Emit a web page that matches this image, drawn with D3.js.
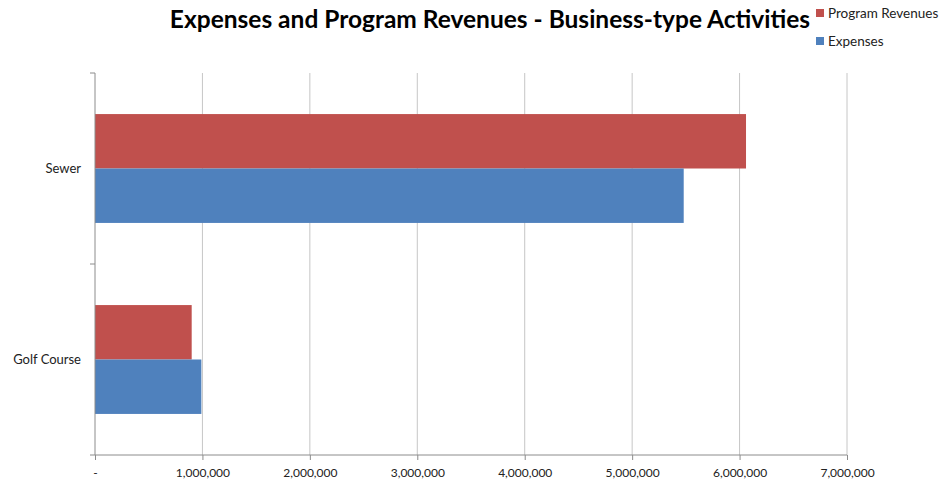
<!DOCTYPE html>
<html>
<head>
<meta charset="utf-8">
<script src="https://cdn.jsdelivr.net/npm/d3@7"></script>
<style>
  body { margin: 0; background: #fff; }
  text { font-family: Lato, "Open Sans", sans-serif; }
</style>
</head>
<body>
<div id="chart"></div>
<script>
// data
const categories = ['Sewer', 'Golf Course']
const seriesNames = ['Program Revenues', 'Expenses']
const programRevenues = [6060000, 900000]
const expenses = [5480000, 990000]
const xTicks = [0, 1000000, 2000000, 3000000, 4000000, 5000000, 6000000, 7000000]
const colors = ['#C0504D', '#4F81BD']

var margin = { top: 73, right: 103, bottom: 32, left: 95 },
    width = 950 - margin.left - margin.right,
    height = 487 - margin.top - margin.bottom;

var svg = d3.select('#chart')
    .append('svg')
    .attr('width', 950)
    .attr('height', 487)

var g = svg.append('g')
    .attr('transform', 'translate(' + margin.left + ',' + margin.top + ')')

var x = d3.scaleLinear()
    .domain([0, 7000000])
    .range([0, 752])

var y = d3.scaleBand()
    .domain(categories)
    .range([0, 382])
    .paddingInner(0.43)
    .paddingOuter(0.215)

var ySub = d3.scaleBand()
    .domain(seriesNames)
    .range([0, y.bandwidth()])

// gridlines
g.append('g')
    .selectAll('line')
    .data(xTicks.slice(1))
    .enter()
    .append('line')
    .attr('x1', d => x(d)).attr('x2', d => x(d))
    .attr('y1', 0).attr('y2', 382)
    .attr('stroke', '#c6c6c6')
    .attr('stroke-width', 1)

// bars
const rows = categories.map((c, i) => ({
    cat: c,
    values: [
        { name: seriesNames[0], value: programRevenues[i], color: colors[0] },
        { name: seriesNames[1], value: expenses[i], color: colors[1] }
    ]
}))

g.selectAll('.grp')
    .data(rows)
    .enter()
    .append('g')
    .attr('class', 'grp')
    .attr('transform', d => 'translate(0,' + y(d.cat) + ')')
    .selectAll('rect')
    .data(d => d.values)
    .enter()
    .append('rect')
    .attr('x', x(0))
    .attr('y', d => ySub(d.name))
    .attr('width', d => x(d.value) - x(0))
    .attr('height', ySub.bandwidth())
    .attr('fill', d => d.color)

// x axis
var xAxis = g.append('g')
    .attr('transform', 'translate(0,382)')
    .call(d3.axisBottom(x)
        .tickValues(xTicks)
        .tickSize(5)
        .tickPadding(8)
        .tickFormat(d => d === 0 ? '-' : d3.format(',')(d)))
xAxis.select('.domain').attr('stroke', '#8c8c8c').attr('d', 'M0,0H752')
xAxis.selectAll('.tick line').attr('stroke', '#8c8c8c')
xAxis.selectAll('.tick text')
    .attr('fill', '#222')
    .style('font-size', '12px')
    .style('font-family', 'Lato, sans-serif')

// y axis: ticks at category boundaries
var yAxis = g.append('g')
yAxis.append('line')
    .attr('x1', 0).attr('x2', 0)
    .attr('y1', 0).attr('y2', 382)
    .attr('stroke', '#8c8c8c')
yAxis.selectAll('.yt')
    .data([0, 191, 382])
    .enter()
    .append('line')
    .attr('x1', -5).attr('x2', 0)
    .attr('y1', d => d).attr('y2', d => d)
    .attr('stroke', '#8c8c8c')
yAxis.selectAll('.ylab')
    .data(categories)
    .enter()
    .append('text')
    .attr('x', -14)
    .attr('y', d => y(d) + y.bandwidth() / 2)
    .attr('dy', '0.35em')
    .attr('text-anchor', 'end')
    .style('font-size', '13px')
    .attr('fill', '#222')
    .text(d => d)

// title
svg.append('text')
    .attr('x', 490)
    .attr('y', 28)
    .attr('text-anchor', 'middle')
    .style('font-size', '24.5px')
    .style('font-weight', 'bold')
    .attr('fill', '#000')
    .text('Expenses and Program Revenues - Business-type Activities')

// legend
var legend = svg.append('g')
    .attr('transform', 'translate(816,9)')
seriesNames.forEach((name, i) => {
    legend.append('rect')
        .attr('x', 0).attr('y', i * 28)
        .attr('width', 8).attr('height', 8)
        .attr('fill', colors[i])
    legend.append('text')
        .attr('x', 12).attr('y', i * 28 + 4)
        .attr('dy', '0.35em')
        .style('font-size', '13.5px')
        .attr('fill', '#222')
        .text(name)
})
</script>
</body>
</html>
